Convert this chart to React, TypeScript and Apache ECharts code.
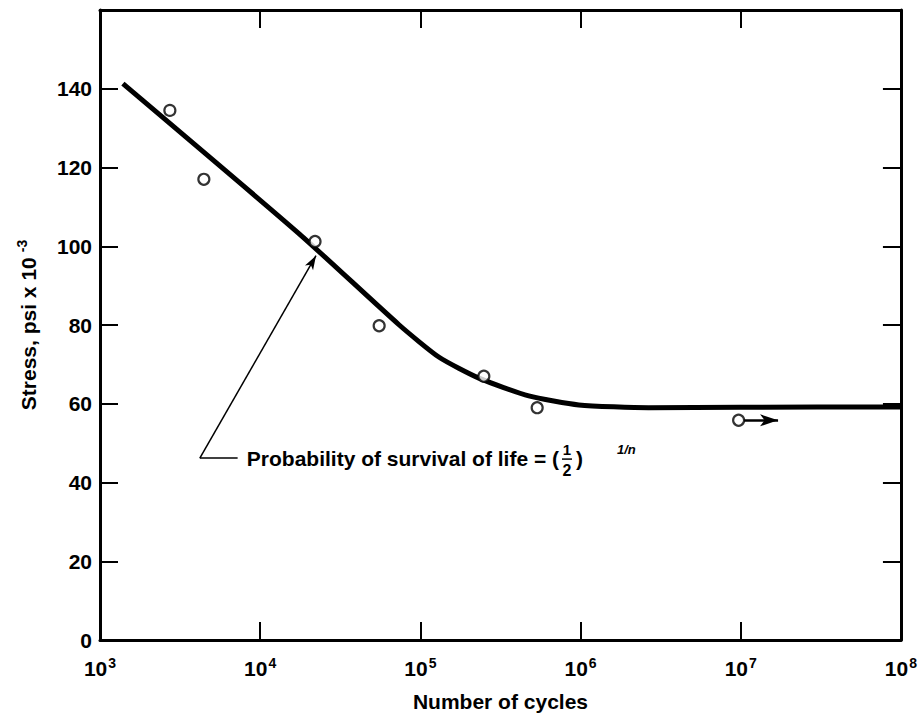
import React, { useEffect, useRef } from 'react';
import * as echarts from 'echarts';

// Observed fatigue test points (cycles, stress ksi)
const testCycles = [2730, 4450, 22000, 55300, 249000, 536000, 9.7e6];
const testStress = [134.5, 117, 101.2, 79.8, 67, 59, 55.8];

// Fitted S-N curve
const curveCycles = [1390, 17600, 73800, 131000, 232000, 475000, 975000, 2660000, 10000000, 100000000];
const curveStress = [141.3, 103.1, 80.0, 71.8, 66.5, 62.0, 59.7, 59.0, 59.1, 59.2];

// Axis settings
const xMin = 1e3;
const xMax = 1e8;
const yMin = 0;
const yMax = 160;
const yStep = 20;

// Annotation anchors (data coordinates)
const annotationCorner = [4200, 46.2];
const annotationTip = [22300, 97.6];
const annotationLeaderEnd = [7230, 46.2];
const runoutArrow = [[1.05e7, 55.8], [1.71e7, 55.8]];

const annotationText = 'Probability of survival of life = (';
const FONT = '"Liberation Sans", Arial, Helvetica, sans-serif';

export default function App() {
  const ref = useRef<HTMLDivElement>(null);
  useEffect(() => {
    document.body.style.margin = '0';
    const chart = echarts.init(ref.current!, null, { renderer: 'svg' });
    const black = '#000';
    const option: any = {
      animation: false,
      backgroundColor: '#fff',
      textStyle: { fontFamily: FONT },
      grid: { left: 100, right: 17, top: 10, bottom: 74 },
      xAxis: [
        {
          type: 'log',
          logBase: 10,
          min: xMin,
          max: xMax,
          interval: 1,
          splitLine: { show: false },
          minorTick: { show: false },
          axisLine: { onZero: false, lineStyle: { color: black, width: 3 } },
          axisTick: { inside: true, length: 18, lineStyle: { color: black, width: 2 } },
          axisLabel: {
            margin: 16,
            formatter: (v: number) => `{b|10}{s|${Math.round(Math.log10(v))}}`,
            rich: {
              b: { fontSize: 21, fontWeight: 'bold', color: black, fontFamily: FONT, lineHeight: 24 },
              s: { fontSize: 14, fontWeight: 'bold', color: black, fontFamily: FONT, verticalAlign: 'top', lineHeight: 14, padding: [0, 0, 0, 1] },
            },
          },
          name: 'Number of cycles',
          nameLocation: 'middle',
          nameGap: 51,
          nameTextStyle: { fontSize: 21, fontWeight: 'bold', color: black, fontFamily: FONT },
        },
        {
          type: 'log',
          logBase: 10,
          min: xMin,
          max: xMax,
          interval: 1,
          position: 'top',
          splitLine: { show: false },
          axisLine: { onZero: false, lineStyle: { color: black, width: 3 } },
          axisTick: { inside: true, length: 18, lineStyle: { color: black, width: 2 } },
          axisLabel: { show: false },
        },
      ],
      yAxis: [
        {
          type: 'value',
          min: yMin,
          max: yMax,
          interval: yStep,
          splitLine: { show: false },
          axisLine: { onZero: false, lineStyle: { color: black, width: 3 } },
          axisTick: { inside: true, length: 18, lineStyle: { color: black, width: 2 } },
          axisLabel: {
            margin: 8,
            fontSize: 21,
            fontWeight: 'bold',
            color: black,
            fontFamily: FONT,
            formatter: (v: number) => (v >= yMax ? '' : String(v)),
          },
          name: '{t|Stress, psi x 10}{s|-3}',
          nameLocation: 'middle',
          nameGap: 59,
          nameTextStyle: {
            rich: {
              t: { fontSize: 21, fontWeight: 'bold', color: black, fontFamily: FONT, lineHeight: 26 },
              s: { fontSize: 14, fontWeight: 'bold', color: black, fontFamily: FONT, verticalAlign: 'top', lineHeight: 14, padding: [0, 0, 0, 5] },
            },
          },
        },
        {
          type: 'value',
          min: yMin,
          max: yMax,
          interval: yStep,
          position: 'right',
          splitLine: { show: false },
          axisLine: { onZero: false, lineStyle: { color: black, width: 3 } },
          axisTick: { inside: true, length: 18, lineStyle: { color: black, width: 2 } },
          axisLabel: { show: false },
        },
      ],
      series: [
        {
          type: 'line',
          data: curveCycles.map((c, i) => [c, curveStress[i]]),
          symbol: 'none',
          smooth: 0.2,
          lineStyle: { color: black, width: 5 },
          z: 2,
          markLine: {
            silent: true,
            symbol: ['none', 'none'],
            label: { show: false },
            lineStyle: { color: black, width: 1.5, type: 'solid' },
            data: [
              [
                { coord: annotationCorner, symbol: 'none' },
                { coord: annotationTip, symbol: 'arrow', symbolSize: [7, 14] },
              ],
              [
                { coord: annotationCorner, symbol: 'none' },
                { coord: annotationLeaderEnd, symbol: 'none' },
              ],
              [
                { coord: runoutArrow[0], symbol: 'none', lineStyle: { width: 2.5 } },
                { coord: runoutArrow[1], symbol: 'arrow', symbolSize: [9, 18], lineStyle: { width: 2.5 } },
              ],
            ],
          },
        },
        {
          type: 'scatter',
          data: testCycles.map((c, i) => [c, testStress[i]]),
          symbol: 'circle',
          symbolSize: 11,
          itemStyle: { color: '#fff', borderColor: black, borderWidth: 2.2 },
          z: 3,
        },
      ],
    };
    chart.setOption(option);

    const p = chart.convertToPixel({ xAxisIndex: 0, yAxisIndex: 0 }, annotationCorner) as number[];
    const x0 = p[0] + 47;
    const cy = p[1];
    const mainFont = `bold 21px ${FONT}`;
    const ctx = document.createElement('canvas').getContext('2d')!;
    ctx.font = mainFont;
    const w = ctx.measureText(annotationText).width;
    const fx = x0 + w + 8;
    chart.setOption({
      graphic: [
        {
          type: 'text',
          x: x0,
          y: cy,
          style: { text: annotationText, font: mainFont, fill: black, textAlign: 'left', textVerticalAlign: 'middle' },
        },
        {
          type: 'text',
          x: fx,
          y: cy - 9,
          style: { text: '1', font: `bold 15px ${FONT}`, fill: black, textAlign: 'center', textVerticalAlign: 'middle' },
        },
        {
          type: 'line',
          shape: { x1: fx - 5, y1: cy + 1, x2: fx + 5, y2: cy + 1 },
          style: { stroke: black, lineWidth: 1.5 },
        },
        {
          type: 'text',
          x: fx,
          y: cy + 12,
          style: { text: '2', font: `bold 16px ${FONT}`, fill: black, textAlign: 'center', textVerticalAlign: 'middle' },
        },
        {
          type: 'text',
          x: fx + 9,
          y: cy,
          style: { text: ')', font: mainFont, fill: black, textAlign: 'left', textVerticalAlign: 'middle' },
        },
        {
          type: 'text',
          x: fx + 50,
          y: cy - 9,
          style: { text: '1/n', font: `italic bold 13px ${FONT}`, fill: black, textAlign: 'left', textVerticalAlign: 'middle' },
        },
      ],
    });
    return () => chart.dispose();
  }, []);
  return <div ref={ref} style={{ position: 'absolute', left: 0, top: 0, width: 920, height: 717 }} />;
}
